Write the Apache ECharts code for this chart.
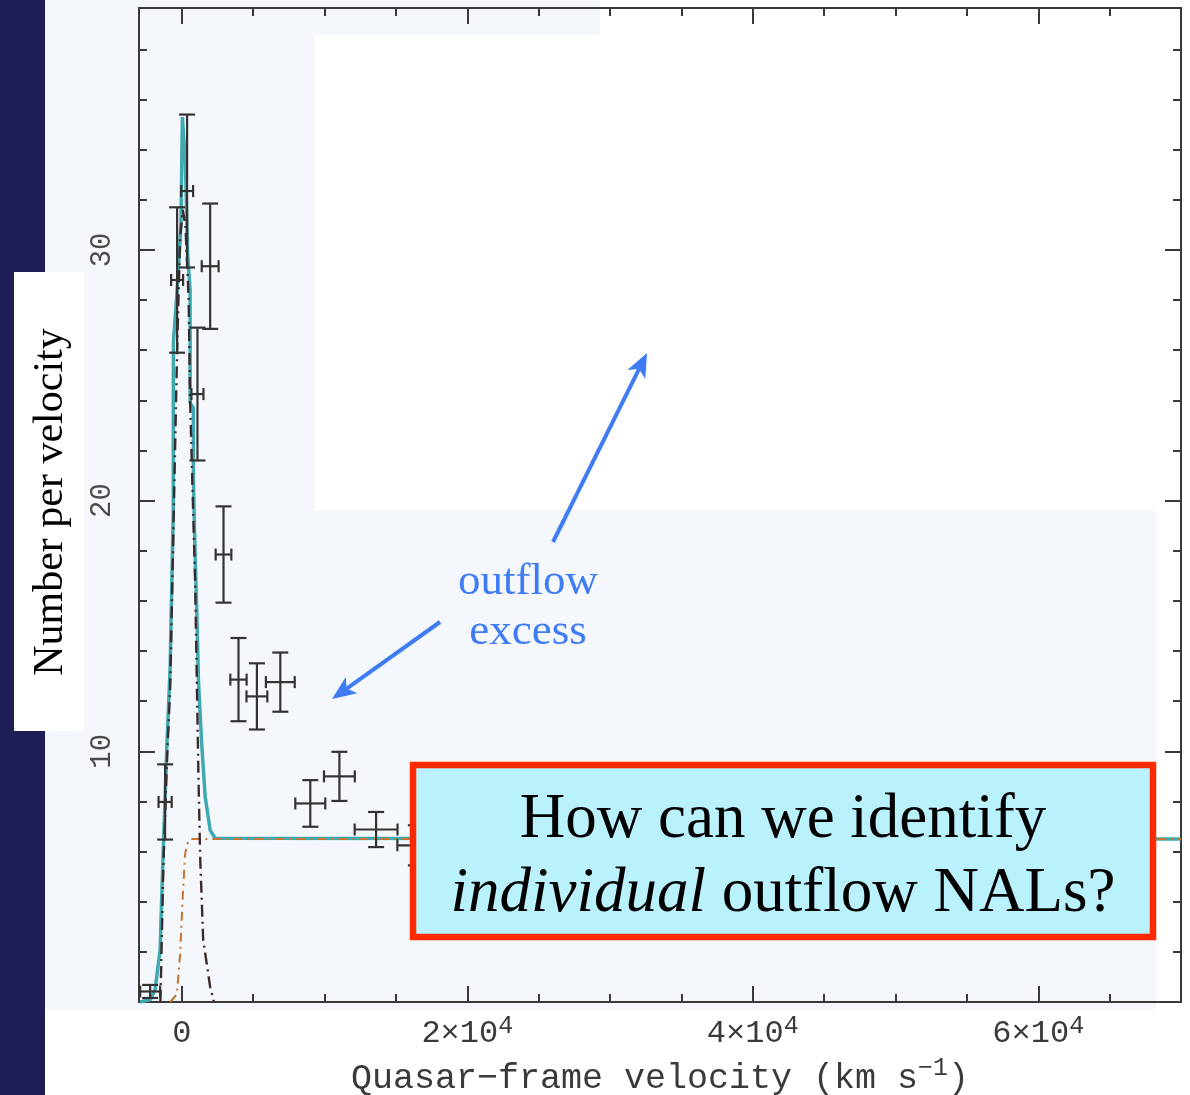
<!DOCTYPE html>
<html>
<head>
<meta charset="utf-8">
<script src="https://cdn.jsdelivr.net/npm/echarts@6/dist/echarts.min.js"></script>
<style>
  html, body { margin: 0; padding: 0; background: #ffffff; }
  #chart { width: 1190px; height: 1095px; }
</style>
</head>
<body>
<div id="chart"></div>
<script>
// Binned NAL counts versus quasar-frame velocity (km/s), with 1-sigma errors
const velocity = [-2220, -1170, -330, 370, 1095, 1985, 2920, 3970, 5260, 6900, 9000, 11040, 13610, 16400];
const velErr   = [700, 460, 420, 420, 420, 590, 550, 570, 730, 1010, 1050, 1080, 1500, 1300];
const count    = [0.42, 7.98, 28.8, 32.35, 24.25, 29.35, 17.85, 12.86, 12.19, 12.76, 7.92, 9.0, 6.88, 6.25];
const countErr = [0.26, 1.5, 2.9, 3.05, 2.65, 2.5, 1.92, 1.66, 1.32, 1.18, 0.93, 0.98, 0.7, 0.8];

// Total model fit (teal)
const fitVel = [-2920, -2200, -1870, -1520, -1400, -1290, -1050, -820, -600, -590, -330, -60, 40, 150, 250, 400, 580, 585, 810, 814, 863, 933, 1053, 1165, 1403, 1635, 1986, 2337, 70000];
const fitVal = [0, 0.1, 0.5, 2.1, 4.3, 6.2, 10.2, 13.3, 19.6, 26.3, 28.4, 31.0, 35.3, 35.3, 33.5, 29.9, 28.4, 23.9, 23.7, 20.8, 19.5, 17.8, 15.5, 12.8, 10.2, 8.2, 6.85, 6.53, 6.5];

// Associated (intrinsic peak) component, dark dash-dot
const peakVel = [-1500, -1290, -1050, -820, -600, -330, -120, 60, 250, 480, 580, 700, 930, 1050, 1170, 1285, 1495, 1985, 2250];
const peakVal = [0, 5.5, 9.5, 12.5, 18.5, 26.0, 30.5, 31.6, 31.0, 28.0, 24.0, 21.5, 16.8, 12.8, 8.85, 5.8, 2.5, 0.6, 0];

// Flat intervening component, orange dash-dot
const flatVel = [-820, -350, -120, 56, 230, 370, 580, 70000];
const flatVal = [0, 0.3, 1.9, 4.1, 5.9, 6.3, 6.5, 6.5];

// Axis ticks and labels
const xMajor = [0, 20000, 40000, 60000];
const xMinor = [5000, 10000, 15000, 25000, 30000, 35000, 45000, 50000, 55000, 65000];
const yMajor = [0, 10, 20, 30];
const yMinor = [2, 4, 6, 8, 12, 14, 16, 18, 22, 24, 26, 28, 32, 34, 36, 38];
const yLabels = [10, 20, 30];

const X_MIN = -3000, X_MAX = 70000, Y_MIN = 0, Y_MAX = 39.65;
const AXIS_COLOR = '#3a3a3a';
const MONO = '"Liberation Mono", "DejaVu Sans Mono", monospace';
const SERIF = '"Liberation Serif", "DejaVu Serif", serif';

const chart = echarts.init(document.getElementById('chart'), null, { renderer: 'canvas' });

function xLabel(v) {
  if (v === 0) return '{b|0}';
  return '{b|' + (v / 10000) + '×10}{s|4}';
}

function makeXAxis(position, ticks, len, showLine, labels) {
  return {
    type: 'value', position: position, min: X_MIN, max: X_MAX,
    axisLine: { show: showLine, onZero: false, lineStyle: { color: AXIS_COLOR, width: 2 } },
    axisTick: { show: true, inside: true, length: len, customValues: ticks,
      lineStyle: { color: AXIS_COLOR, width: 2 } },
    axisLabel: labels ? {
      show: true, customValues: labels, margin: 12, formatter: xLabel,
      rich: {
        b: { fontFamily: MONO, fontSize: 32, color: '#3a3a3a', verticalAlign: 'bottom', lineHeight: 36 },
        s: { fontFamily: MONO, fontSize: 25, color: '#3a3a3a', verticalAlign: 'top', lineHeight: 36, padding: [0, 0, 12, 0] }
      }
    } : { show: false },
    splitLine: { show: false }
  };
}

function makeYAxis(position, ticks, len, showLine, labels) {
  return {
    type: 'value', position: position, min: Y_MIN, max: Y_MAX,
    axisLine: { show: showLine, onZero: false, lineStyle: { color: AXIS_COLOR, width: 2 } },
    axisTick: { show: true, inside: true, length: len, customValues: ticks,
      lineStyle: { color: AXIS_COLOR, width: 2 } },
    axisLabel: labels ? {
      show: true, customValues: labels, rotate: 90, margin: 22,
      fontFamily: MONO, fontSize: 29, color: '#4a4a4a'
    } : { show: false },
    splitLine: { show: false }
  };
}

function renderErrorBar(params, api) {
  const v = api.value(0), n = api.value(1), dv = api.value(2), dn = api.value(3);
  const top = api.coord([v, n + dn]);
  const bot = api.coord([v, n - dn]);
  const lft = api.coord([v - dv, n]);
  const rgt = api.coord([v + dv, n]);
  const capW = 8, capH = 6;
  const style = { stroke: '#333333', lineWidth: 2.2 };
  const seg = (x1, y1, x2, y2) => ({ type: 'line', shape: { x1, y1, x2, y2 }, style: style });
  return {
    type: 'group',
    children: [
      seg(top[0], top[1], bot[0], bot[1]),
      seg(top[0] - capW, top[1], top[0] + capW, top[1]),
      seg(bot[0] - capW, bot[1], bot[0] + capW, bot[1]),
      seg(lft[0], lft[1], rgt[0], rgt[1]),
      seg(lft[0], lft[1] - capH, lft[0], lft[1] + capH),
      seg(rgt[0], rgt[1] - capH, rgt[0], rgt[1] + capH)
    ]
  };
}

// Arrow annotation: shaft plus filled head at the tip
function arrow(x1, y1, x2, y2, color) {
  const ang = Math.atan2(y2 - y1, x2 - x1);
  const headLen = 24, headHalf = 10;
  const bx = x2 - headLen * Math.cos(ang), by = y2 - headLen * Math.sin(ang);
  const nx = -Math.sin(ang), ny = Math.cos(ang);
  const inset = 6;
  const mx = x2 - (headLen - inset) * Math.cos(ang), my = y2 - (headLen - inset) * Math.sin(ang);
  return [
    { type: 'line', z: 50, shape: { x1: x1, y1: y1, x2: mx, y2: my },
      style: { stroke: color, lineWidth: 4 } },
    { type: 'polygon', z: 50, shape: { points: [[x2, y2], [bx + nx * headHalf, by + ny * headHalf], [mx, my], [bx - nx * headHalf, by - ny * headHalf]] },
      style: { fill: color } }
  ];
}

const BLUE = '#3f7cf4';

const graphic = [
  // slide backdrop
  { type: 'rect', z: -100, shape: { x: 45, y: 0, width: 1111, height: 1010 }, style: { fill: '#f4f8fc' } },
  { type: 'rect', z: -99, shape: { x: 315, y: 35, width: 841, height: 475 }, style: { fill: '#ffffff' } },
  { type: 'rect', z: -99, shape: { x: 600, y: 0, width: 556, height: 36 }, style: { fill: '#ffffff' } },
  { type: 'rect', z: -98, shape: { x: 0, y: 0, width: 45, height: 1095 }, style: { fill: '#1f1d56' } },
  // y-axis title panel
  { type: 'rect', z: 40, shape: { x: 14, y: 272, width: 70, height: 459 }, style: { fill: '#ffffff' } },
  { type: 'text', z: 41, x: 51, y: 502, rotation: Math.PI / 2,
    style: { text: 'Number per velocity', font: '42px ' + SERIF, fill: '#000000', align: 'center', verticalAlign: 'middle' } },
  // outflow annotation
  { type: 'text', z: 50, x: 528, y: 607,
    style: { text: 'outflow\nexcess', font: '45px ' + SERIF, fill: BLUE, align: 'center', verticalAlign: 'middle', lineHeight: 50 } },
  ...arrow(440, 622, 332, 699, BLUE),
  ...arrow(553, 542, 647, 353, BLUE),
  // question box
  { type: 'rect', z: 60, shape: { x: 413, y: 765, width: 740, height: 172 },
    style: { fill: '#b9f1fd', stroke: '#ff2a00', lineWidth: 6.5 } },
  { type: 'text', z: 61, x: 783, y: 857,
    style: {
      text: '{n|How can we identify}\n{i|individual}{n| outflow NALs?}',
      align: 'center', verticalAlign: 'middle',
      rich: {
        n: { font: '63px ' + SERIF, fill: '#000000', lineHeight: 74 },
        i: { font: 'italic 63px ' + SERIF, fill: '#000000', lineHeight: 74 }
      }
    } }
];

const option = {
  animation: false,
  backgroundColor: 'transparent',
  grid: { left: 139, right: 9, top: 8, bottom: 93, containLabel: false, outerBoundsMode: 'none' },
  xAxis: [
    Object.assign(makeXAxis('bottom', xMajor, 16, true, xMajor), {
      name: '{t|Quasar−frame velocity (km s}{u|−1}{t|)}',
      nameLocation: 'middle', nameGap: 54,
      nameTextStyle: {
        rich: {
          t: { fontFamily: MONO, fontSize: 35, color: '#3a3a3a', verticalAlign: 'bottom', lineHeight: 40 },
          u: { fontFamily: MONO, fontSize: 25, color: '#3a3a3a', verticalAlign: 'top', lineHeight: 40, padding: [0, 0, 14, 0] }
        }
      }
    }),
    makeXAxis('bottom', xMinor, 8, false, null),
    makeXAxis('top', xMajor, 16, true, null),
    makeXAxis('top', xMinor, 8, false, null)
  ],
  yAxis: [
    makeYAxis('left', yMajor, 16, true, yLabels),
    makeYAxis('left', yMinor, 8, false, null),
    makeYAxis('right', yMajor, 16, true, null),
    makeYAxis('right', yMinor, 8, false, null)
  ],
  series: [
    {
      name: 'fit', type: 'line', xAxisIndex: 0, yAxisIndex: 0, z: 3,
      data: fitVel.map((v, i) => [v, fitVal[i]]),
      showSymbol: false, symbol: 'none', smooth: false, clip: true,
      lineStyle: { color: '#3fa9b2', width: 3.5 }
    },
    {
      name: 'flat', type: 'line', xAxisIndex: 0, yAxisIndex: 0, z: 4,
      data: flatVel.map((v, i) => [v, flatVal[i]]),
      showSymbol: false, symbol: 'none', clip: true,
      lineStyle: { color: '#c8732e', width: 2, type: [9, 5, 2, 5] }
    },
    {
      name: 'peak', type: 'line', xAxisIndex: 0, yAxisIndex: 0, z: 4,
      data: peakVel.map((v, i) => [v, peakVal[i]]),
      showSymbol: false, symbol: 'none', clip: true,
      lineStyle: { color: '#3b2b2b', width: 2.4, type: [12, 5, 2, 5] }
    },
    {
      name: 'counts', type: 'custom', xAxisIndex: 0, yAxisIndex: 0, z: 6,
      renderItem: renderErrorBar, clip: true,
      encode: { x: 0, y: 1 },
      data: velocity.map((v, i) => [v, count[i], velErr[i], countErr[i]])
    }
  ],
  graphic: graphic
};

chart.setOption(option);
</script>
</body>
</html>
